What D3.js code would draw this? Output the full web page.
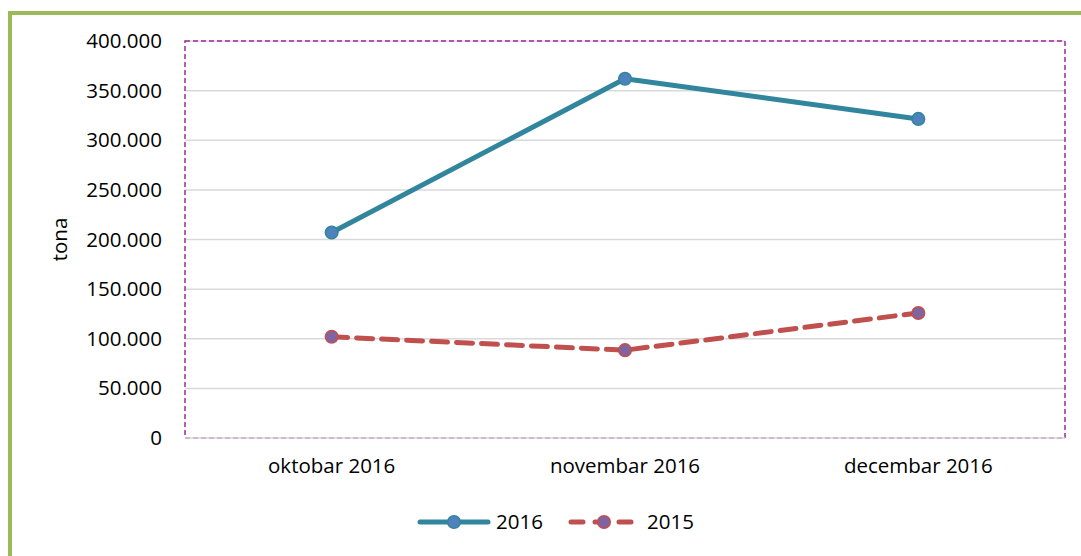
<!DOCTYPE html>
<html><head><meta charset="utf-8">
<script src="https://cdn.jsdelivr.net/npm/d3@7"></script>
<style>
html,body{margin:0;padding:0;background:#fff;}
text{font-family:"Open Sans","Noto Sans",sans-serif;fill:#000;}
</style></head>
<body><svg id="chart" width="1081" height="556"></svg>
<script>
const categories = ["oktobar 2016", "novembar 2016", "decembar 2016"];
const series2016 = [207000, 362000, 321500];
const series2015 = [102000, 88500, 126000];
const seriesNames = ["2016", "2015"];
const yTicks = [0, 50000, 100000, 150000, 200000, 250000, 300000, 350000, 400000];
const yTickLabels = ["0", "50.000", "100.000", "150.000", "200.000", "250.000", "300.000", "350.000", "400.000"];
const yAxisTitle = "tona";

const svg = d3.select("#chart");
const W = 1081, H = 556;
const FS = 20.5;
const plot = {left: 185, top: 41, right: 1065, bottom: 438};

// outer green frame
svg.append("path")
  .attr("d", `M10,${H} L10,13 L${W},13`)
  .attr("fill", "none").attr("stroke", "#9BBB59").attr("stroke-width", 4);

const x = d3.scaleBand().domain(categories).range([plot.left, plot.right]);
const y = d3.scaleLinear().domain([0, 400000]).range([plot.bottom, plot.top]);

// gridlines
svg.append("g").selectAll("line").data(yTicks.filter(d => d > 0)).join("line")
  .attr("x1", plot.left).attr("x2", plot.right)
  .attr("y1", d => y(d)).attr("y2", d => y(d))
  .attr("stroke", "#D9D9D9").attr("stroke-width", 1.5);

// plot area dashed border
svg.append("rect")
  .attr("x", plot.left).attr("y", plot.top)
  .attr("width", plot.right - plot.left).attr("height", plot.bottom - plot.top)
  .attr("fill", "none").attr("stroke", "#A5259E").attr("stroke-width", 1.5)
  .attr("stroke-dasharray", "5,3");

// x axis line
svg.append("line").attr("x1", plot.left).attr("x2", plot.right)
  .attr("y1", plot.bottom).attr("y2", plot.bottom)
  .attr("stroke", "#D9D9D9").attr("stroke-width", 1.5);

// y axis labels
const yAxis = d3.axisLeft(y).tickValues(yTicks).tickFormat((d, i) => yTickLabels[i]).tickSize(0).tickPadding(23);
const gy = svg.append("g").attr("transform", `translate(${plot.left},0)`).call(yAxis);
gy.select(".domain").remove();
gy.selectAll("text").attr("font-size", FS).attr("font-family", "Open Sans").attr("fill", "#000");

// x axis labels
const xAxis = d3.axisBottom(x).tickSize(0).tickPadding(20);
const gx = svg.append("g").attr("transform", `translate(0,${plot.bottom})`).call(xAxis);
gx.select(".domain").remove();
gx.selectAll("text").attr("font-size", FS).attr("font-family", "Open Sans").attr("fill", "#000");

// y axis title
svg.append("text").attr("transform", `translate(67,${(plot.top + plot.bottom) / 2}) rotate(-90)`)
  .attr("text-anchor", "middle").attr("font-size", FS).text(yAxisTitle);

const line = d3.line().x((d, i) => x(categories[i]) + x.bandwidth() / 2).y(d => y(d));

// 2015 series
svg.append("path").datum(series2015).attr("d", line)
  .attr("fill", "none").attr("stroke", "#C0504D").attr("stroke-width", 5)
  .attr("stroke-dasharray", "16,9").attr("stroke-linecap", "round");
svg.append("g").selectAll("circle").data(series2015).join("circle")
  .attr("cx", (d, i) => x(categories[i]) + x.bandwidth() / 2).attr("cy", d => y(d))
  .attr("r", 6.3).attr("fill", "#8064A2").attr("stroke", "#C0504D").attr("stroke-width", 1.5);

// 2016 series
svg.append("path").datum(series2016).attr("d", line)
  .attr("fill", "none").attr("stroke", "#31859C").attr("stroke-width", 5)
  .attr("stroke-linejoin", "round");
svg.append("g").selectAll("circle").data(series2016).join("circle")
  .attr("cx", (d, i) => x(categories[i]) + x.bandwidth() / 2).attr("cy", d => y(d))
  .attr("r", 6.3).attr("fill", "#4F81BD").attr("stroke", "#31859C").attr("stroke-width", 1.5);

// legend
const lg = svg.append("g");
const ly = 522;
// 2016
lg.append("line").attr("x1", 420).attr("x2", 488).attr("y1", ly).attr("y2", ly)
  .attr("stroke", "#31859C").attr("stroke-width", 5).attr("stroke-linecap", "round");
lg.append("circle").attr("cx", 454).attr("cy", ly).attr("r", 6.3)
  .attr("fill", "#4F81BD").attr("stroke", "#31859C").attr("stroke-width", 1.5);
lg.append("text").attr("x", 496).attr("y", ly).attr("dy", "0.35em").attr("font-size", FS).text(seriesNames[0]);
// 2015
lg.append("line").attr("x1", 571).attr("x2", 632).attr("y1", ly).attr("y2", ly)
  .attr("stroke", "#C0504D").attr("stroke-width", 5).attr("stroke-linecap", "round")
  .attr("stroke-dasharray", "12,12");
lg.append("circle").attr("cx", 604).attr("cy", ly).attr("r", 6.3)
  .attr("fill", "#8064A2").attr("stroke", "#C0504D").attr("stroke-width", 1.5);
lg.append("text").attr("x", 647).attr("y", ly).attr("dy", "0.35em").attr("font-size", FS).text(seriesNames[1]);
</script></body></html>
